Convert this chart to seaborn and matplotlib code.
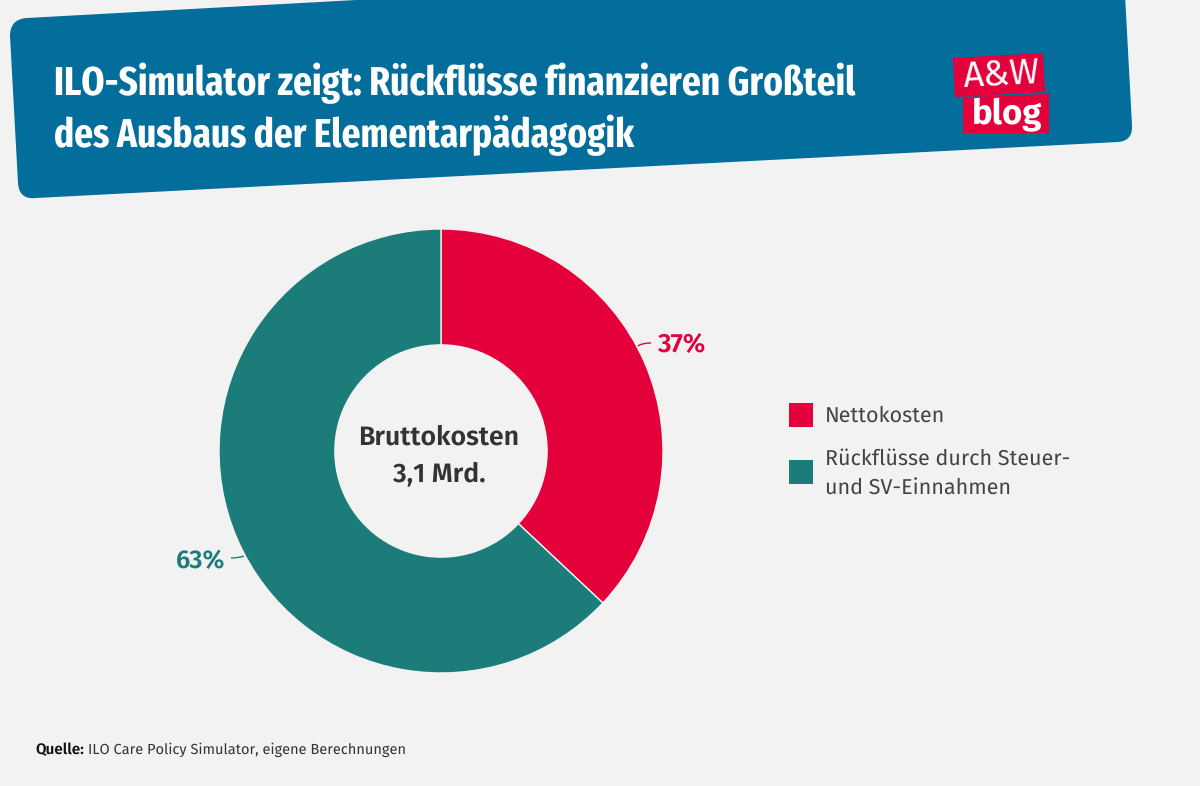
import matplotlib
matplotlib.use('Agg')
import matplotlib.pyplot as plt
from matplotlib.path import Path
from matplotlib.patches import PathPatch, Polygon, Rectangle
from matplotlib import font_manager
import seaborn as sns

# Data
segments = ['Nettokosten', 'Rückflüsse durch Steuer-\nund SV-Einnahmen']
shares = [37, 63]
share_labels = ['37%', '63%']
center_label = 'Bruttokosten\n3,1 Mrd.'
title_lines = ['ILO-Simulator zeigt: Rückflüsse finanzieren Großteil',
               'des Ausbaus der Elementarpädagogik']

BG = '#F2F2F2'
BLUE = '#036D9B'
RED = '#E4003A'
TEAL = '#1C7C7A'
DARK = '#333333'

sns.set_theme(style='white', rc={'figure.facecolor': BG, 'axes.facecolor': BG})


def pick_font(*options):
    names = {f.name for f in font_manager.fontManager.ttflist}
    for name in options:
        if name in names:
            return name
    return 'DejaVu Sans'


BODY = pick_font('Fira Sans', 'Lato', 'Open Sans')
COND = pick_font('Fira Sans Extra Condensed', 'Fira Sans Condensed', 'Roboto Condensed', 'Lato')
plt.rcParams['font.family'] = [BODY, 'DejaVu Sans']
plt.rcParams['text.hinting'] = 'none'

fig = plt.figure(figsize=(12, 7.86), dpi=100, facecolor=BG)

# overlay in pixel coordinates for the banner, labels and legend
bg = fig.add_axes([0, 0, 1, 1])
bg.set_xlim(0, 1200)
bg.set_ylim(786, 0)
bg.axis('off')

banner = [
    (Path.MOVETO, (27, 18)),
    (Path.LINETO, (356, 0)), (Path.LINETO, (356, -5)), (Path.LINETO, (1125, -5)),
    (Path.LINETO, (1132, 125)),
    (Path.CURVE3, (1133, 141)), (Path.CURVE3, (1118, 142)),
    (Path.LINETO, (36, 198)),
    (Path.CURVE3, (19, 200)), (Path.CURVE3, (18, 183)),
    (Path.LINETO, (10, 36)),
    (Path.CURVE3, (10, 19)), (Path.CURVE3, (27, 18)),
    (Path.CLOSEPOLY, (27, 18)),
]
codes, verts = zip(*banner)
bg.add_patch(PathPatch(Path(verts, codes), fc=BLUE, ec='none'))

# logo
bg.add_patch(Polygon([(953, 58), (1043, 53), (1045, 92), (955, 97)], fc=RED, ec='none'))
bg.add_patch(Polygon([(963, 97), (1049, 94), (1049, 133), (963, 133)], fc=RED, ec='none'))
bg.text(1002, 75, 'A&W', color='white', fontsize=26, family=BODY, fontweight='normal',
        ha='center', va='center', rotation=3)
bg.text(1007, 115, 'blog', color='white', fontsize=25, fontweight='bold', ha='center', va='center')

# title
bg.text(54, 95, title_lines[0], color='white', fontsize=29, fontweight='bold',
        family=COND, va='baseline')
bg.text(54, 147, title_lines[1], color='white', fontsize=29, fontweight='bold',
        family=COND, va='baseline')

# donut
ax = fig.add_axes([(441 - 222) / 1200, (786 - 451 - 222) / 786, 444 / 1200, 444 / 786])
ax.set_facecolor('none')
ax.pie(shares, colors=[RED, TEAL], startangle=90, counterclock=False, radius=1,
       wedgeprops={'width': 0.522, 'edgecolor': BG, 'linewidth': 1})
ax.set_xlim(-1, 1)
ax.set_ylim(-1, 1)
bg.text(439, 456, center_label, ha='center', va='center', fontsize=19.2, fontweight='semibold',
        color=DARK, linespacing=1.55)

# share labels with small leader lines
bg.text(658, 345, share_labels[0], color=RED, fontsize=19, fontweight='semibold', va='center')
bg.text(225, 561, share_labels[1], color=TEAL, fontsize=18.5, fontweight='semibold', va='center', ha='right')
leader1 = Path([(638, 346), (642, 343), (651, 343)], [Path.MOVETO, Path.CURVE3, Path.CURVE3])
leader2 = Path([(231, 558), (239, 558), (244, 556)], [Path.MOVETO, Path.CURVE3, Path.CURVE3])
bg.add_patch(PathPatch(leader1, fc='none', ec=RED, lw=1))
bg.add_patch(PathPatch(leader2, fc='none', ec=TEAL, lw=1))
bg.set_zorder(ax.get_zorder() + 1)
bg.patch.set_alpha(0)

# legend
bg.add_patch(Rectangle((789, 403), 24, 24, fc=RED, ec='none'))
bg.add_patch(Rectangle((789, 460), 24, 24, fc=TEAL, ec='none'))
bg.text(825, 416, segments[0], fontsize=15.5, color='#444444', va='center')
bg.text(825, 474, segments[1], fontsize=15.5, color='#444444', va='center', linespacing=1.6)

# source
bg.text(35, 750, 'Quelle:', fontsize=11, fontweight='semibold', color='#111111', va='center')
bg.text(88, 750, 'ILO Care Policy Simulator, eigene Berechnungen', fontsize=10.5, color=DARK, va='center')

fig.savefig('out.png', dpi=100, facecolor=BG)
